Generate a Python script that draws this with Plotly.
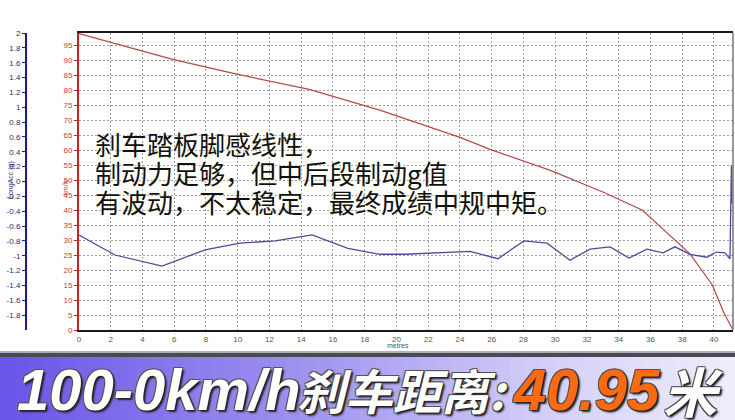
import plotly.graph_objects as go

# ---- data ----
dist_speed = [0, 5.9, 10.0, 14.5, 19.0, 24.0, 25.9, 29.7, 33.0, 35.5, 38.5, 39.9, 40.6, 41.0, 41.2]
speed_kmh = [98.8, 90.2, 85.2, 80.2, 73.2, 64.2, 60.2, 53.2, 46.0, 39.9, 25.3, 15.0, 6.0, 2.0, 0.0]

dist_acc = [0, 2.27, 5.23, 7.94, 10.14, 12.35, 14.68, 16.94, 18.96, 20.54, 24.63, 26.39, 28.03,
            29.48, 30.93, 32.19, 33.45, 34.65, 35.78, 36.79, 37.54, 38.49, 39.56, 40.13, 40.69,
            41.01, 41.1, 41.13]
long_acc_g = [-0.72, -0.99, -1.14, -0.92, -0.83, -0.80, -0.72, -0.90, -0.98, -0.98, -0.94, -1.04,
              -0.80, -0.83, -1.06, -0.91, -0.88, -1.03, -0.91, -0.96, -0.88, -0.98, -1.02, -0.95,
              -0.96, -1.04, 0.22, -0.30]

g_ticks = [round(-1.8 + 0.2 * i, 1) for i in range(20)]
g_tick_text = [("%g" % v) for v in g_ticks]

note_lines = ["刹车踏板脚感线性，", "制动力足够，但中后段制动g值", "有波动，不太稳定，最终成绩中规中矩。"]
banner_parts = ["100-0km/h", "刹车距离:", "40.95", "米"]

W, H = 735, 420


def px(x):
    return x / W


def py(y):
    return 1 - y / H


fig = go.Figure()
fig.add_trace(go.Scatter(x=dist_speed, y=speed_kmh, mode="lines",
                         line=dict(color="#b24a4a", width=1.2), yaxis="y", showlegend=False))
fig.add_trace(go.Scatter(x=dist_acc, y=long_acc_g, mode="lines",
                         line=dict(color="#4b4b9c", width=1.3), yaxis="y2", showlegend=False))

tickfont = dict(family="Liberation Sans, Arial", size=8)

fig.update_layout(
    width=W, height=H,
    margin=dict(l=0, r=0, t=0, b=0, autoexpand=False),
    paper_bgcolor="white", plot_bgcolor="white",
    showlegend=False,
    xaxis=dict(domain=[px(79), px(733)], range=[0, 41.2],
               tickvals=list(range(0, 41, 2)), automargin=False,
               showgrid=True, gridcolor="#9a9a9a", griddash="2px,2px", gridwidth=1,
               showline=True, linecolor="#1a1a1a", linewidth=2, mirror=True,
               ticks="", tickfont=dict(tickfont, color="#555555"), zeroline=False,
               anchor="y"),
    yaxis=dict(domain=[py(330), py(33)], range=[0, 99], tickvals=list(range(0, 96, 5)),
               automargin=False,
               showgrid=True, gridcolor="#9a9a9a", griddash="2px,2px", gridwidth=1,
               showline=True, linecolor="#cc2020", linewidth=2,
               ticks="outside", ticklen=3, tickcolor="#cc2020",
               tickfont=dict(tickfont, color="#c83a3a"), zeroline=False, anchor="x"),
    yaxis2=dict(overlaying="y", anchor="free", position=px(26), side="left",
                range=[-2, 2], tickvals=g_ticks, ticktext=g_tick_text, automargin=False,
                showgrid=False, zeroline=False,
                showline=True, linecolor="#1a1a8a", linewidth=2,
                ticks="outside", ticklen=3, tickcolor="#1a1a8a",
                tickfont=dict(tickfont, color="#2a2a7a")),
)

shapes = []
# right border of plot frame
shapes.append(dict(type="line", xref="paper", yref="paper", x0=px(733), x1=px(733),
                   y0=py(33), y1=py(330), line=dict(color="#777777", width=1.5)))
# banner gradient strips
n = 49
stops = [(0, (104, 84, 232)), (300, (158, 146, 240)), (560, (214, 210, 248)), (735, (238, 238, 252))]


def col_at(x):
    for (xa, ca), (xb, cb) in zip(stops[:-1], stops[1:]):
        if xa <= x <= xb:
            t = (x - xa) / (xb - xa)
            return "rgb(%d,%d,%d)" % tuple(round(ca[i] + (cb[i] - ca[i]) * t) for i in range(3))
    return "rgb(%d,%d,%d)" % stops[-1][1]


for i in range(n):
    x0 = W * i / n
    x1 = W * (i + 1) / n + 0.6
    shapes.append(dict(type="rect", xref="paper", yref="paper", x0=px(x0), x1=px(min(x1, W)),
                       y0=0, y1=py(357), line=dict(width=0), fillcolor=col_at((x0 + x1) / 2),
                       layer="above"))
# dark separator line above banner
shapes.append(dict(type="rect", xref="paper", yref="paper", x0=0, x1=1, y0=py(357), y1=py(353),
                   line=dict(width=0), fillcolor="#4a4a55", layer="above"))
shapes.append(dict(type="rect", xref="paper", yref="paper", x0=0, x1=1, y0=py(353), y1=py(351),
                   line=dict(width=0), fillcolor="#b0b0b8", layer="above"))
fig.update_layout(shapes=shapes)

ann = []
# axis titles
ann.append(dict(text="LongAcc (g)", x=px(6), y=py(180), xref="paper", yref="paper",
                showarrow=False, textangle=-90, borderpad=0,
                font=dict(family="Liberation Sans, Arial", size=7, color="#2a2a7a")))
ann.append(dict(text="km/h", x=px(61), y=py(188), xref="paper", yref="paper",
                showarrow=False, textangle=-90, borderpad=0,
                font=dict(family="Liberation Sans, Arial", size=7, color="#c83a3a")))
ann.append(dict(text="metres", x=px(398), y=py(350), xref="paper", yref="paper",
                showarrow=False, borderpad=0,
                font=dict(family="Liberation Sans, Arial", size=7, color="#555555")))
# note text
for i, line in enumerate(note_lines):
    ann.append(dict(text=line, x=px(94), y=py(143 + 29 * i), xref="paper", yref="paper",
                    xanchor="left", yanchor="middle", showarrow=False, borderpad=0,
                    font=dict(family="Noto Sans CJK SC", size=26, color="#111111",
                              shadow="0px 0px 3px #ffffe8")))
# banner text
shadow = "2px 2px 2px #222, -1px -1px 0 #555, 1px -1px 0 #555, -1px 1px 0 #555, 1px 1px 0 #555"
banner_specs = [
    (banner_parts[0], 16, "white", "Liberation Sans", 58),
    (banner_parts[1], 296, "white", "Noto Sans CJK SC", 48),
    (banner_parts[2], 512, "#ff6a10", "Liberation Sans", 58),
    (banner_parts[3], 662, "white", "Noto Sans CJK SC", 54),
]
for text, x, color, fam, size in banner_specs:
    ann.append(dict(text=text, x=px(x), y=py(389), xref="paper", yref="paper",
                    xanchor="left", yanchor="middle", showarrow=False, borderpad=0,
                    font=dict(family=fam, size=size, color=color, weight="bold",
                              style="italic", shadow=shadow)))
fig.update_layout(annotations=ann)

fig.write_html("out.html", config={"displayModeBar": False},
               post_script="document.body.style.margin='0';document.body.style.overflow='hidden';")
